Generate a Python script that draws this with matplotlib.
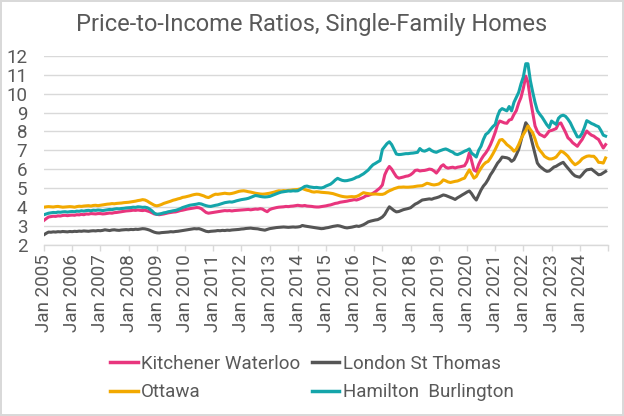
import matplotlib
matplotlib.use("Agg")
import matplotlib.pyplot as plt
import pandas as pd

# ---- data (monthly, Jan 2005 - Dec 2024) ----
kitchener_waterloo = [
    3.28, 3.38, 3.46, 3.48, 3.50, 3.49, 3.52, 3.51, 3.54, 3.55, 3.53, 3.55,
    3.56, 3.55, 3.58, 3.57, 3.60, 3.58, 3.62, 3.61, 3.64, 3.63, 3.62, 3.64,
    3.64, 3.62, 3.63, 3.65, 3.67, 3.66, 3.69, 3.70, 3.72, 3.74, 3.76, 3.78,
    3.79, 3.80, 3.82, 3.81, 3.83, 3.81, 3.80, 3.82, 3.78, 3.74, 3.68, 3.62,
    3.60, 3.58, 3.60, 3.62, 3.65, 3.68, 3.70, 3.72, 3.73, 3.76, 3.80, 3.82,
    3.85, 3.88, 3.90, 3.92, 3.94, 3.96, 3.95, 3.90, 3.80, 3.70, 3.66, 3.68,
    3.70, 3.72, 3.74, 3.76, 3.78, 3.80, 3.79, 3.80, 3.78, 3.80, 3.81, 3.82,
    3.83, 3.84, 3.85, 3.86, 3.84, 3.86, 3.88, 3.87, 3.90, 3.88, 3.80, 3.74,
    3.85, 3.90, 3.93, 3.96, 3.98, 3.99, 4.00, 4.02, 4.01, 4.03, 4.04, 4.06,
    4.08, 4.06, 4.05, 4.07, 4.04, 4.03, 4.02, 4.00, 3.99, 3.99, 4.01, 4.03,
    4.05, 4.08, 4.10, 4.14, 4.18, 4.20, 4.24, 4.26, 4.28, 4.30, 4.33, 4.35,
    4.38, 4.36, 4.40, 4.45, 4.50, 4.58, 4.60, 4.65, 4.72, 4.80, 4.90, 5.00,
    5.16, 5.70, 5.95, 6.14, 6.00, 5.79, 5.60, 5.52, 5.55, 5.58, 5.62, 5.64,
    5.70, 5.80, 5.93, 5.95, 5.90, 5.92, 5.93, 5.96, 6.00, 5.98, 5.90, 5.79,
    5.95, 6.15, 6.23, 6.10, 6.05, 6.08, 6.10, 6.06, 6.10, 6.12, 6.15, 6.18,
    6.40, 6.86, 6.45, 5.95, 5.88, 6.25, 6.50, 6.70, 6.86, 7.05, 7.30, 7.60,
    7.95, 8.37, 8.55, 8.50, 8.45, 8.43, 8.60, 8.64, 8.90, 9.10, 9.50, 9.80,
    10.30, 10.93, 10.60, 9.71, 9.00, 8.29, 8.00, 7.84, 7.78, 7.71, 7.85, 8.02,
    8.05, 8.10, 8.15, 8.40, 8.45, 8.20, 7.95, 7.66, 7.55, 7.40, 7.30, 7.21,
    7.40, 7.57, 7.80, 8.02, 7.90, 7.80, 7.75, 7.65, 7.57, 7.35, 7.12, 7.30,
]
london_st_thomas = [
    2.52, 2.60, 2.66, 2.65, 2.67, 2.66, 2.68, 2.67, 2.69, 2.68, 2.67, 2.69,
    2.68, 2.70, 2.69, 2.71, 2.70, 2.72, 2.71, 2.70, 2.72, 2.73, 2.72, 2.74,
    2.73, 2.75, 2.78, 2.76, 2.74, 2.77, 2.78, 2.76, 2.75, 2.77, 2.78, 2.79,
    2.78, 2.80, 2.79, 2.81, 2.80, 2.82, 2.84, 2.83, 2.80, 2.76, 2.70, 2.65,
    2.62, 2.61, 2.63, 2.64, 2.65, 2.66, 2.68, 2.67, 2.69, 2.70, 2.72, 2.74,
    2.76, 2.78, 2.80, 2.82, 2.84, 2.83, 2.84, 2.80, 2.75, 2.70, 2.68, 2.70,
    2.71, 2.72, 2.74, 2.73, 2.75, 2.74, 2.76, 2.75, 2.77, 2.78, 2.79, 2.80,
    2.82, 2.83, 2.85, 2.86, 2.87, 2.85, 2.84, 2.83, 2.80, 2.78, 2.76, 2.80,
    2.84, 2.86, 2.88, 2.90, 2.91, 2.92, 2.93, 2.92, 2.91, 2.92, 2.93, 2.92,
    2.93, 2.95, 3.01, 2.98, 2.96, 2.94, 2.92, 2.90, 2.88, 2.86, 2.84, 2.85,
    2.88, 2.90, 2.93, 2.96, 2.98, 3.00, 2.98, 2.94, 2.90, 2.88, 2.90, 2.92,
    2.95, 2.98, 2.96, 3.00, 3.05, 3.12, 3.20, 3.24, 3.27, 3.30, 3.32, 3.38,
    3.46, 3.60, 3.80, 4.00, 3.90, 3.80, 3.73, 3.75, 3.80, 3.85, 3.88, 3.91,
    3.95, 4.05, 4.14, 4.20, 4.28, 4.36, 4.38, 4.40, 4.42, 4.40, 4.45, 4.48,
    4.52, 4.58, 4.63, 4.60, 4.55, 4.50, 4.45, 4.39, 4.48, 4.55, 4.63, 4.70,
    4.78, 4.84, 4.70, 4.50, 4.36, 4.63, 4.89, 5.10, 5.25, 5.45, 5.70, 5.88,
    6.10, 6.32, 6.45, 6.64, 6.62, 6.60, 6.55, 6.41, 6.50, 6.75, 7.04, 7.50,
    8.00, 8.46, 8.29, 7.80, 7.30, 6.80, 6.32, 6.15, 6.05, 5.95, 5.88, 5.90,
    6.00, 6.11, 6.15, 6.23, 6.30, 6.36, 6.20, 6.05, 5.90, 5.75, 5.64, 5.60,
    5.57, 5.70, 5.85, 5.96, 5.98, 6.00, 5.90, 5.80, 5.70, 5.72, 5.80, 5.88,
]
ottawa = [
    3.98, 4.00, 4.01, 4.00, 3.99, 4.01, 4.02, 4.00, 3.98, 3.99, 4.00, 4.01,
    4.00, 3.98, 4.01, 4.03, 4.02, 4.04, 4.05, 4.06, 4.04, 4.07, 4.08, 4.06,
    4.08, 4.10, 4.12, 4.14, 4.15, 4.17, 4.16, 4.18, 4.19, 4.20, 4.22, 4.23,
    4.24, 4.26, 4.28, 4.30, 4.33, 4.35, 4.38, 4.36, 4.30, 4.22, 4.15, 4.08,
    4.05, 4.08, 4.12, 4.18, 4.22, 4.26, 4.30, 4.35, 4.38, 4.42, 4.45, 4.50,
    4.52, 4.55, 4.58, 4.62, 4.65, 4.67, 4.66, 4.62, 4.58, 4.52, 4.49, 4.55,
    4.62, 4.67, 4.66, 4.68, 4.70, 4.72, 4.70, 4.69, 4.71, 4.74, 4.78, 4.82,
    4.84, 4.85, 4.83, 4.80, 4.78, 4.75, 4.72, 4.70, 4.68, 4.67, 4.68, 4.70,
    4.72, 4.75, 4.78, 4.82, 4.85, 4.84, 4.86, 4.85, 4.87, 4.88, 4.90, 4.91,
    4.92, 4.95, 4.97, 4.92, 4.88, 4.85, 4.80, 4.78, 4.80, 4.79, 4.77, 4.76,
    4.75, 4.74, 4.72, 4.70, 4.66, 4.62, 4.58, 4.55, 4.53, 4.52, 4.53, 4.54,
    4.53, 4.55, 4.60, 4.68, 4.75, 4.72, 4.70, 4.68, 4.67, 4.68, 4.67, 4.66,
    4.66, 4.70, 4.78, 4.85, 4.90, 4.96, 5.00, 5.04, 5.04, 5.05, 5.04, 5.04,
    5.05, 5.06, 5.08, 5.10, 5.11, 5.12, 5.18, 5.25, 5.22, 5.18, 5.16, 5.18,
    5.21, 5.30, 5.43, 5.38, 5.32, 5.29, 5.32, 5.35, 5.37, 5.42, 5.48, 5.52,
    5.75, 5.96, 5.75, 5.52, 5.61, 5.85, 6.05, 6.23, 6.35, 6.41, 6.59, 6.80,
    7.04, 7.30, 7.54, 7.57, 7.45, 7.30, 7.21, 7.10, 6.95, 7.05, 7.30, 7.60,
    7.84, 8.05, 8.29, 8.10, 7.93, 7.60, 7.21, 7.00, 6.85, 6.68, 6.60, 6.54,
    6.54, 6.58, 6.64, 6.80, 6.95, 6.90, 6.80, 6.68, 6.50, 6.35, 6.23, 6.30,
    6.40, 6.55, 6.62, 6.68, 6.70, 6.68, 6.68, 6.55, 6.36, 6.35, 6.32, 6.59,
]
hamilton_burlington = [
    3.58, 3.62, 3.66, 3.68, 3.70, 3.69, 3.72, 3.71, 3.73, 3.74, 3.72, 3.74,
    3.75, 3.74, 3.77, 3.76, 3.79, 3.77, 3.80, 3.81, 3.79, 3.82, 3.81, 3.83,
    3.82, 3.80, 3.82, 3.84, 3.86, 3.85, 3.88, 3.90, 3.89, 3.91, 3.92, 3.94,
    3.95, 3.96, 3.98, 3.97, 4.00, 3.99, 3.97, 3.98, 3.95, 3.88, 3.78, 3.66,
    3.60, 3.62, 3.64, 3.68, 3.70, 3.74, 3.76, 3.79, 3.81, 3.85, 3.90, 3.96,
    4.00, 4.04, 4.08, 4.10, 4.12, 4.14, 4.17, 4.15, 4.10, 4.06, 4.03, 4.02,
    4.05, 4.08, 4.10, 4.14, 4.18, 4.22, 4.24, 4.26, 4.25, 4.28, 4.32, 4.35,
    4.38, 4.40, 4.42, 4.45, 4.50, 4.55, 4.60, 4.58, 4.55, 4.53, 4.52, 4.53,
    4.55, 4.60, 4.65, 4.70, 4.74, 4.78, 4.80, 4.82, 4.84, 4.83, 4.85, 4.84,
    4.85, 4.92, 5.00, 5.08, 5.10, 5.06, 5.04, 5.02, 5.03, 5.01, 5.00, 5.03,
    5.10, 5.15, 5.20, 5.30, 5.42, 5.51, 5.45, 5.40, 5.38, 5.39, 5.42, 5.45,
    5.50, 5.57, 5.60, 5.68, 5.75, 5.85, 5.95, 6.10, 6.23, 6.30, 6.38, 6.45,
    7.04, 7.20, 7.35, 7.45, 7.30, 7.05, 6.80, 6.77, 6.78, 6.80, 6.82, 6.82,
    6.84, 6.85, 6.87, 6.89, 7.09, 6.98, 6.95, 7.00, 7.07, 6.98, 6.92, 6.89,
    6.95, 7.00, 7.04, 7.07, 7.02, 6.95, 6.90, 6.80, 6.77, 6.82, 6.88, 6.95,
    7.00, 7.07, 6.85, 6.75, 6.64, 7.00, 7.21, 7.57, 7.84, 7.93, 8.10, 8.25,
    8.37, 8.82, 9.10, 9.21, 9.15, 9.09, 9.32, 9.09, 9.54, 9.80, 10.07, 10.52,
    10.90, 11.59, 11.59, 10.70, 10.10, 9.54, 9.10, 8.91, 8.75, 8.55, 8.35, 8.20,
    8.55, 8.45, 8.37, 8.70, 8.82, 8.86, 8.80, 8.65, 8.46, 8.20, 7.95, 7.71,
    7.71, 7.90, 8.20, 8.57, 8.50, 8.42, 8.37, 8.30, 8.25, 8.05, 7.80, 7.75,
]
series_names = ["Kitchener Waterloo", "London St Thomas", "Ottawa", "Hamilton  Burlington"]
series_values = [kitchener_waterloo, london_st_thomas, ottawa, hamilton_burlington]
series_colors = ["#E8357D", "#555555", "#F2A900", "#14A5AA"]
y_ticks = list(range(2, 13))

dates = pd.date_range("2005-01-01", periods=len(ottawa), freq="MS")
tick_dates = pd.date_range("2005-01-01", "2025-01-01", freq="YS")
tick_labels = [f"Jan {d.year}" if d.year < 2025 else "" for d in tick_dates]

FONT = "Roboto"
TXT = "#595959"
GRID = "#D9D9D9"

fig = plt.figure(figsize=(6.24, 4.16), dpi=100, edgecolor=GRID, linewidth=1.5)
ax = fig.add_axes([44 / 624, 1 - 244.5 / 416, (608 - 44) / 624, (244.5 - 56) / 416])

lines = []
for name, vals, col in zip(series_names, series_values, series_colors):
    ln, = ax.plot(dates, vals, color=col, lw=2.2, label=name, solid_joinstyle="round")
    lines.append(ln)

ax.set_ylim(2, 12)
ax.set_xlim(tick_dates[0], tick_dates[-1])
ax.set_yticks(y_ticks)
ax.set_yticklabels([str(v) for v in y_ticks], fontsize=13.5, color=TXT, family=FONT)
ax.set_xticks(tick_dates)
ax.set_xticklabels(tick_labels, rotation=90, fontsize=13.5, color=TXT, family=FONT)
ax.tick_params(axis="y", length=0, pad=12)
ax.tick_params(axis="x", length=4, width=1, color=GRID, pad=3)
ax.grid(axis="y", color=GRID, lw=1)
ax.set_axisbelow(True)
for s in ["left", "right", "top"]:
    ax.spines[s].set_visible(False)
ax.spines["bottom"].set_color(GRID)
ax.spines["bottom"].set_linewidth(1)

fig.text(0.5, 1 - 24 / 416, "Price-to-Income Ratios, Single-Family Homes",
         ha="center", va="center", fontsize=17, color=TXT, family=FONT)

# legend filled row-wise: KW, London / Ottawa, Hamilton
order = [0, 2, 1, 3]
leg = fig.legend([lines[i] for i in order], [series_names[i] for i in order],
                 loc="center", bbox_to_anchor=(0.5, 1 - 378 / 416), ncol=2,
                 frameon=False, prop={"family": FONT, "size": 13.5},
                 handlelength=1.45, handletextpad=0.2, columnspacing=0.6,
                 labelspacing=0.55, borderaxespad=0)
for t in leg.get_texts():
    t.set_color(TXT)
for h in leg.get_lines():
    h.set_linewidth(2.5)

fig.savefig("out.png", dpi=100, edgecolor=fig.get_edgecolor())
